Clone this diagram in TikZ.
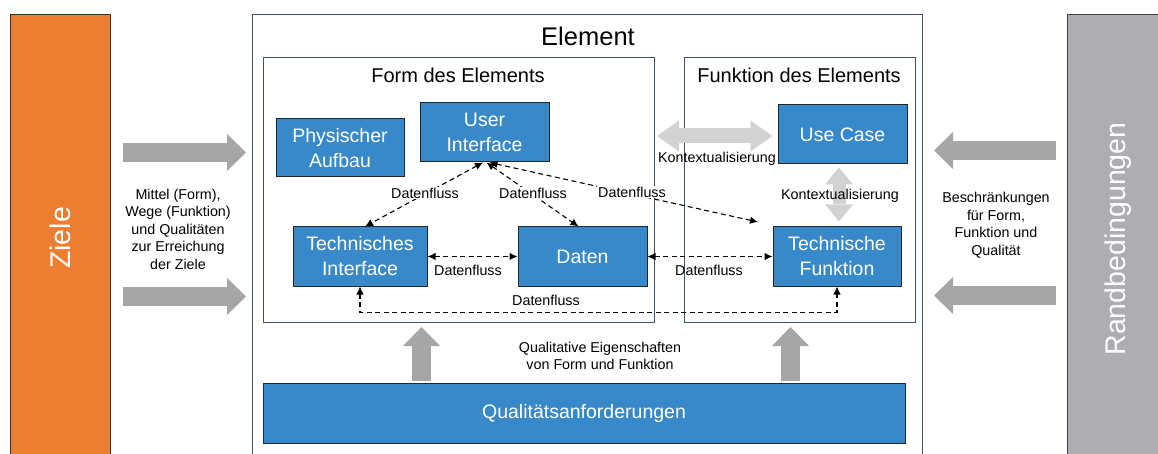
\documentclass[tikz,border=0pt]{standalone}
\usepackage{fontspec}
\setmainfont{Liberation Sans}
\usetikzlibrary{arrows.meta}
\definecolor{boxblue}{HTML}{3789C9}
\definecolor{frameblue}{HTML}{3F5275}
\definecolor{zielorange}{HTML}{ED7D31}
\definecolor{randgray}{HTML}{AEAEB2}
\definecolor{arrowgray}{HTML}{A6A6A6}
\definecolor{ctxgray}{HTML}{D2D2D2}
\tikzset{
  bluebox/.style={draw=black!85, line width=1pt, fill=boxblue, text=white,
    align=center, inner sep=0pt, font=\fontsize{19.5}{25}\selectfont},
  frame/.style={draw=frameblue, line width=1.1pt},
  small/.style={font=\fontsize{14.3}{17.5}\selectfont, align=center, inner sep=1pt},
  flowlabel/.style={small, fill=white},
  flow/.style={draw=black, line width=1.1pt, dash pattern=on 5pt off 3.5pt,
    {Latex[length=8pt,width=7.5pt]}-{Latex[length=8pt,width=7.5pt]}},
  bigarrow/.style={draw=arrowgray, line width=19pt,
    -{Triangle[length=19pt,width=37pt,line width=0pt]}},
  ctxarrow/.style={draw=ctxgray, line width=15pt,
    {Triangle[length=22pt,width=31pt,line width=0pt]}-{Triangle[length=22pt,width=31pt,line width=0pt]}},
  ctxvarrow/.style={draw=ctxgray, line width=13pt,
    {Triangle[length=17pt,width=28pt,line width=0pt]}-{Triangle[length=17pt,width=28pt,line width=0pt]}},
}
\begin{document}
\begin{tikzpicture}[x=1pt,y=-1pt]
\useasboundingbox (0,0) rectangle (1158,454);
\fill[white] (0,0) rectangle (1158,454);

% side bars
\node[draw=black!80, line width=0.9pt, fill=zielorange, minimum width=100, minimum height=460,
  anchor=north west, inner sep=0pt] (ziele) at (10,14) {};
\node[rotate=90, text=white, font=\fontsize{28.5}{30}\selectfont] (zieletext) at (60,238) {Ziele};
\node[draw=black!75, line width=0.9pt, fill=randgray, minimum width=100, minimum height=460,
  anchor=north west, inner sep=0pt] (rand) at (1067,14) {};
\node[rotate=90, text=white, font=\fontsize{28.5}{30}\selectfont] (randtext) at (1118,239) {Randbedingungen};

% element frames
\node[frame, minimum width=670, minimum height=460, anchor=north west, inner sep=0pt] (element) at (252,14) {};
\node[font=\fontsize{25.5}{28}\selectfont] (elementtitle) at (588,36) {Element};
\node[frame, minimum width=391, minimum height=265, anchor=north west, inner sep=0pt] (form) at (263,57) {};
\node[font=\fontsize{20}{24}\selectfont] (formtitle) at (458,75) {Form des Elements};
\node[frame, minimum width=231, minimum height=265, anchor=north west, inner sep=0pt] (funk) at (684,57) {};
\node[font=\fontsize{20}{24}\selectfont] (funktitle) at (799,75) {Funktion des Elements};

% blocks
\node[bluebox, minimum width=128, minimum height=58] (phys) at (340,148) {Physischer\\Aufbau};
\node[bluebox, minimum width=129, minimum height=59] (ui) at (484.5,132.5) {User\\Interface};
\node[bluebox, minimum width=134, minimum height=59] (ti) at (360,256.5) {Technisches\\Interface};
\node[bluebox, minimum width=129, minimum height=59] (daten) at (582.5,256.5) {Daten};
\node[bluebox, minimum width=129, minimum height=59] (uc) at (842.5,134.5) {Use Case};
\node[bluebox, minimum width=128, minimum height=59] (tf) at (837,256.5) {Technische\\Funktion};
\node[bluebox, minimum width=642, minimum height=60] (qual) at (584,413) {Qualitätsanforderungen};

% context arrows
\coordinate (ctxl) at (657,136);
\draw[ctxarrow] (ctxl) -- ([xshift=-5pt,yshift=-1.5pt]uc.west);
\node[small] (ctxlabel1) at (717,159) {Kontextualisierung};
\draw[ctxvarrow] ([xshift=-3.5pt,yshift=-3pt]uc.south) -- ([xshift=2pt,yshift=5pt]tf.north);
\node[small] (ctxlabel2) at (840,196) {Kontextualisierung};

% data flows
\coordinate (tfin) at (758,222);
\draw[flow] ([xshift=-1.5pt]ui.south) -- ([xshift=5pt]ti.north);
\draw[flow] ([xshift=2pt]ui.south) -- ([xshift=-4pt]daten.north);
\draw[flow] ([xshift=5pt]ui.south) -- (tfin);
\draw[flow] (ti.east) -- (daten.west);
\draw[flow] (daten.east) -- (tf.west);
\draw[flow] (ti.south) -- ++(0,26) -| (tf.south);
\node[flowlabel] (df1) at (425,193) {Datenfluss};
\node[flowlabel] (df2) at (533,193) {Datenfluss};
\node[flowlabel] (df3) at (632,192) {Datenfluss};
\node[small] (df4) at (468,270) {Datenfluss};
\node[small] (df5) at (709,270) {Datenfluss};
\node[small] (df6) at (546,300) {Datenfluss};

% inputs from the goals
\coordinate (za1) at (123,152.5);
\coordinate (zb1) at (246,152.5);
\coordinate (za2) at (123,296.5);
\coordinate (zb2) at (246,296.5);
\draw[bigarrow] (za1) -- (zb1);
\draw[bigarrow] (za2) -- (zb2);
\node[small] (zieltext) at (178,229) {Mittel (Form),\\Wege (Funktion)\\und Qualitäten\\zur Erreichung\\der Ziele};

% constraints
\coordinate (ra1) at (1056,150.5);
\coordinate (rb1) at (934,150.5);
\coordinate (ra2) at (1056,295.5);
\coordinate (rb2) at (934,295.5);
\draw[bigarrow] (ra1) -- (rb1);
\draw[bigarrow] (ra2) -- (rb2);
\node[small] (randtext2) at (996,225) {Beschränkungen\\für Form,\\Funktion und\\Qualität};

% quality
\coordinate (qa1) at (421.5,381);
\coordinate (qb1) at (421.5,327);
\coordinate (qa2) at (790.5,381);
\coordinate (qb2) at (790.5,327);
\draw[bigarrow] (qa1) -- (qb1);
\draw[bigarrow] (qa2) -- (qb2);
\node[small] (qualtext) at (600,356) {Qualitative Eigenschaften\\von Form und Funktion};
\end{tikzpicture}
\end{document}
